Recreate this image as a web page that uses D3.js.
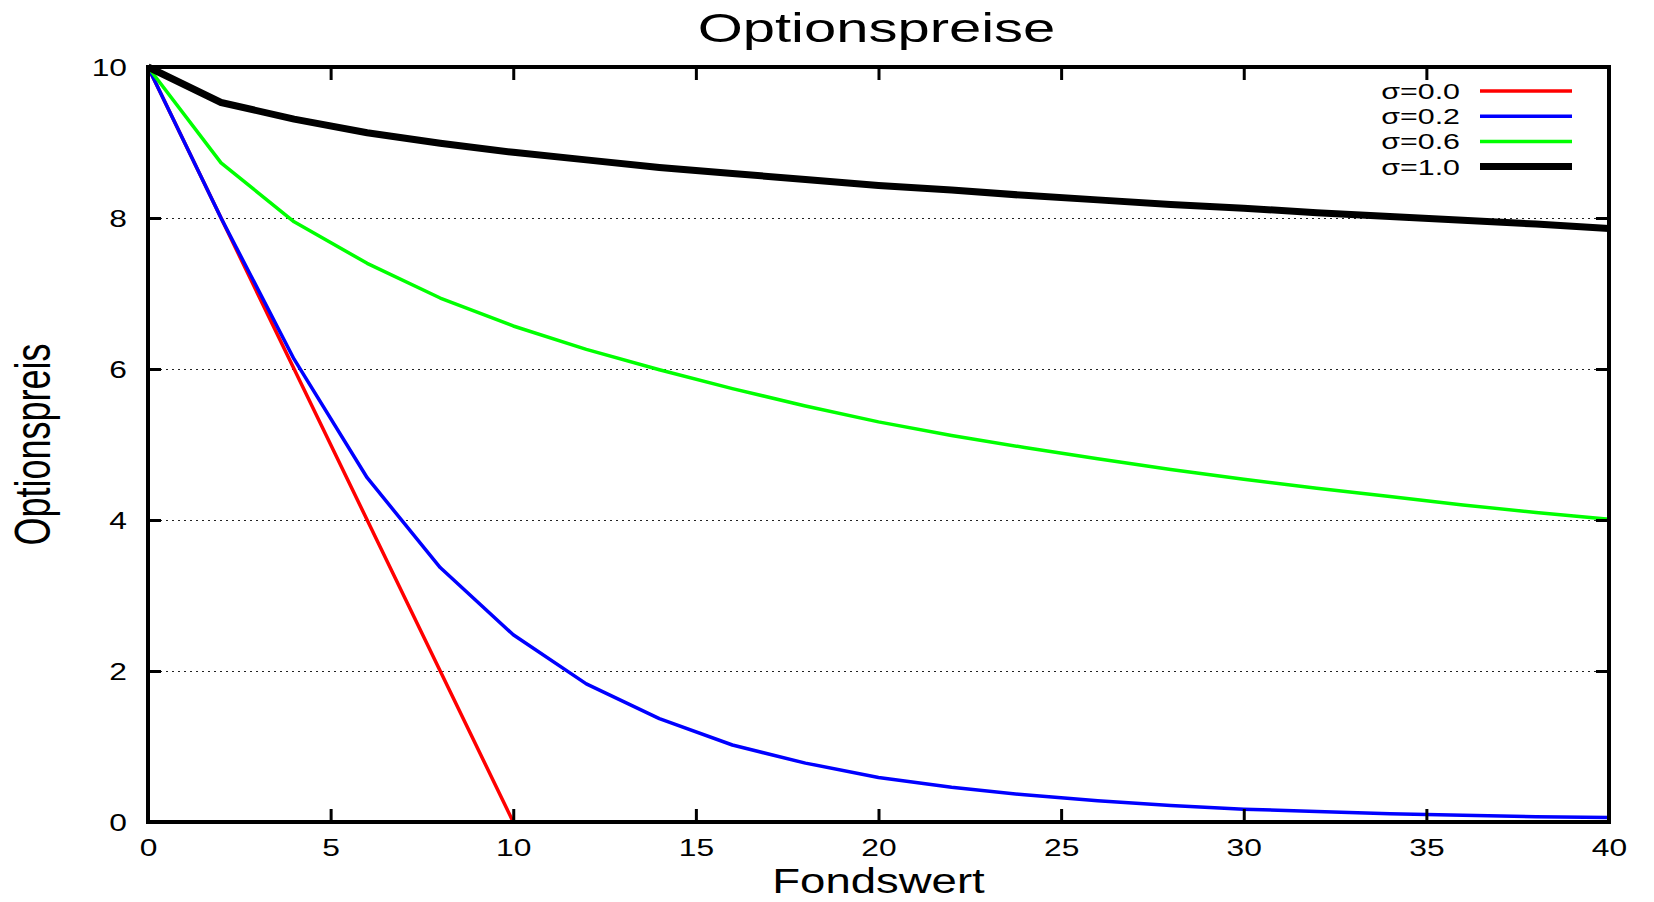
<!DOCTYPE html>
<html lang="de">
<head>
<meta charset="UTF-8">
<title>Optionspreise</title>
<style>
  body { margin: 0; background: #fff; overflow: hidden; }
  svg { display: block; }
  text { font-family: "Liberation Sans", Arial, sans-serif; fill: #000; }
  .frame { fill: none; stroke: #000; stroke-width: 4px; }
  .grid line { stroke: #222; stroke-width: 1px; stroke-dasharray: 2,4; }
  .grid .domain { display: none; }
  .axis .domain { display: none; }
  .axis line { stroke: #000; stroke-width: 3px; }
  .series { fill: none; stroke-linejoin: round; }
</style>
</head>
<body>
<div id="chart"></div>
<script src="https://d3js.org/d3.v7.min.js"></script>
<script>
// x values (Fondswert)
const fondswert = [0, 2, 4, 6, 8, 10, 12, 14, 16, 18, 20, 22, 24, 26, 28, 30, 32, 34, 36, 38, 40];

// option prices per volatility
const sigma00 = [10, 8, 6, 4, 2, 0, 0, 0, 0, 0, 0, 0, 0, 0, 0, 0, 0, 0, 0, 0, 0];
const sigma02 = [10, 8.0, 6.13, 4.56, 3.37, 2.48, 1.83, 1.37, 1.02, 0.78, 0.59, 0.46, 0.36, 0.28, 0.22, 0.17, 0.14, 0.11, 0.09, 0.07, 0.06];
const sigma06 = [10, 8.73, 7.95, 7.40, 6.94, 6.57, 6.26, 5.99, 5.74, 5.51, 5.30, 5.12, 4.96, 4.81, 4.67, 4.54, 4.42, 4.31, 4.20, 4.10, 4.01];
const sigma10 = [10, 9.53, 9.31, 9.13, 8.99, 8.87, 8.77, 8.67, 8.59, 8.51, 8.43, 8.37, 8.30, 8.24, 8.18, 8.13, 8.07, 8.02, 7.97, 7.92, 7.86];

const seriesNames = ["σ=0.0", "σ=0.2", "σ=0.6", "σ=1.0"];
const seriesColors = ["#ff0000", "#0000ff", "#00ff00", "#000000"];
const seriesWidths = [3.5, 3.5, 3.5, 7];
const seriesValues = [sigma00, sigma02, sigma06, sigma10];

const xTicks = [0, 5, 10, 15, 20, 25, 30, 35, 40];
const yTicks = [0, 2, 4, 6, 8, 10];
const gridTicks = [2, 4, 6, 8];

// the original picture is stretched sideways, so text is too
const SX = 1.38;

const W = 1654, H = 902;
const margin = { left: 148, right: 45, top: 67, bottom: 80 };
const iw = W - margin.left - margin.right;
const ih = H - margin.top - margin.bottom;

const svg = d3.select("#chart").append("svg")
    .attr("width", W)
    .attr("height", H);

const g = svg.append("g").attr("transform", `translate(${margin.left},${margin.top})`);

const x = d3.scaleLinear().domain([0, 40]).range([0, iw]);
const y = d3.scaleLinear().domain([0, 10]).range([ih, 0]);

// dotted horizontal grid
g.append("g")
    .attr("class", "grid")
    .call(d3.axisLeft(y).tickValues(gridTicks).tickSize(-iw).tickFormat(""));

// lines
const line = d3.line()
    .x((d, i) => x(fondswert[i]))
    .y(d => y(d));

seriesValues.forEach((vals, k) => {
    g.append("path")
        .attr("class", "series")
        .attr("d", line(vals))
        .attr("stroke", seriesColors[k])
        .attr("stroke-width", seriesWidths[k]);
});

// frame and inward ticks
g.append("rect")
    .attr("class", "frame")
    .attr("width", iw)
    .attr("height", ih);

const xAxis = g.append("g")
    .attr("class", "axis")
    .attr("transform", `translate(0,${ih})`)
    .call(d3.axisBottom(x).tickValues(xTicks).tickSize(-13).tickFormat(d3.format("d")));
xAxis.selectAll("text")
    .attr("x", 0).attr("y", 0).attr("dy", null)
    .attr("text-anchor", "middle")
    .style("font-size", "23px")
    .attr("transform", `translate(0,34) scale(${SX},1)`);

g.append("g")
    .attr("class", "axis")
    .call(d3.axisTop(x).tickValues(xTicks).tickSize(-13).tickFormat(""));

const yAxis = g.append("g")
    .attr("class", "axis")
    .call(d3.axisLeft(y).tickValues(yTicks).tickSize(-13).tickFormat(d3.format("d")));
yAxis.selectAll("text")
    .attr("x", 0).attr("dy", "0.36em")
    .attr("text-anchor", "end")
    .style("font-size", "23px")
    .attr("transform", `translate(-21,0) scale(${SX},1)`);

g.append("g")
    .attr("class", "axis")
    .attr("transform", `translate(${iw},0)`)
    .call(d3.axisRight(y).tickValues(yTicks).tickSize(-13).tickFormat(""));

// titles
svg.append("text")
    .attr("transform", `translate(${margin.left + iw / 2 - 2},42) scale(1.45,1)`)
    .attr("text-anchor", "middle")
    .style("font-size", "40px")
    .text("Optionspreise");

svg.append("text")
    .attr("transform", `translate(${margin.left + iw / 2},893) scale(1.3,1)`)
    .attr("text-anchor", "middle")
    .style("font-size", "35px")
    .text("Fondswert");

svg.append("text")
    .attr("transform", `translate(50,${margin.top + ih / 2}) rotate(-90) scale(1,${SX})`)
    .attr("text-anchor", "middle")
    .style("font-size", "36px")
    .text("Optionspreis");

// legend, top right inside the frame
const legend = g.append("g").attr("transform", `translate(${iw - 37},0)`);
seriesNames.forEach((name, k) => {
    const ly = 24 + k * 25.2;
    legend.append("text")
        .attr("transform", `translate(-112,${ly}) scale(${SX},1)`)
        .attr("dy", "0.36em")
        .attr("text-anchor", "end")
        .style("font-size", "22px")
        .text(name);
    legend.append("line")
        .attr("x1", -92).attr("x2", 0)
        .attr("y1", ly).attr("y2", ly)
        .attr("stroke", seriesColors[k])
        .attr("stroke-width", seriesWidths[k]);
});
</script>
</body>
</html>
